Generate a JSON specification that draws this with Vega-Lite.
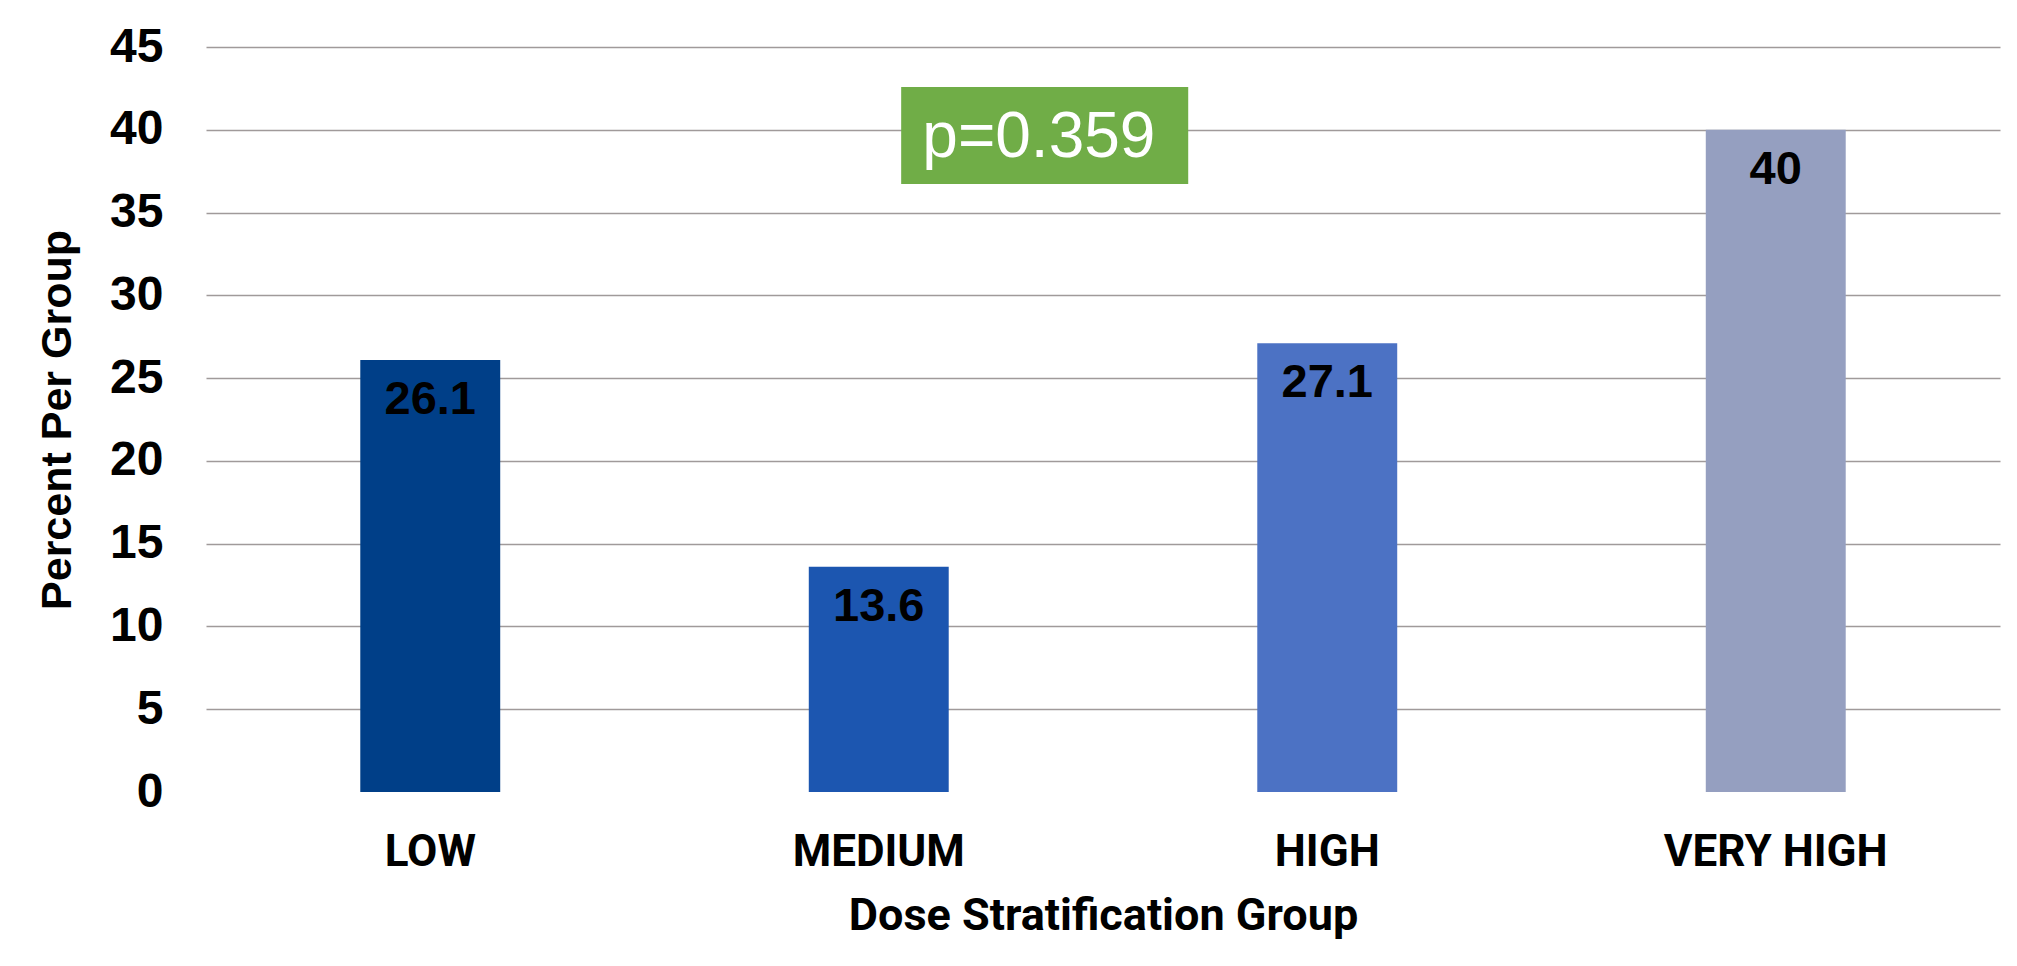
{
  "$schema": "https://vega.github.io/schema/vega-lite/v6.json",
  "autosize": {"type": "none"},
  "width": 1794,
  "height": 745,
  "padding": {"left": 206, "top": 47, "right": 17, "bottom": 174},
  "background": "white",
  "config": {
    "view": {"stroke": null},
    "axis": {"labelColor": "#000000", "titleColor": "#000000"}
  },
  "datasets": {
    "groups": [
      {"group": "LOW", "percent": 26.1},
      {"group": "MEDIUM", "percent": 13.6},
      {"group": "HIGH", "percent": 27.1},
      {"group": "VERY HIGH", "percent": 40}
    ],
    "note": [
      {"label": "p=0.359", "from": 1.55, "to": 2.19, "mid": 1.857, "low": 36.72, "high": 42.58, "center": 39.5}
    ]
  },
  "layer": [
    {
      "data": {"name": "groups"},
      "encoding": {
        "x": {
          "field": "group",
          "type": "nominal",
          "sort": ["LOW", "MEDIUM", "HIGH", "VERY HIGH"],
          "scale": {"paddingInner": 0.688, "paddingOuter": 0.344},
          "axis": {
            "title": "Dose Stratification Group",
            "labelAngle": 0,
            "labelFont": "Roboto",
            "labelFontWeight": "bold",
            "labelFontSize": 44,
            "labelLimit": 0,
            "labelPadding": 38,
            "ticks": false,
            "domain": false,
            "grid": false,
            "titleFont": "Roboto",
            "titleFontWeight": "bold",
            "titleFontSize": 45,
            "titleLimit": 0,
            "titlePadding": 19
          }
        },
        "y": {
          "field": "percent",
          "type": "quantitative",
          "scale": {"domain": [0, 45], "nice": false},
          "axis": {
            "title": "Percent Per Group",
            "values": [0, 5, 10, 15, 20, 25, 30, 35, 40, 45],
            "labelFont": "Liberation Sans",
            "labelFontWeight": "bold",
            "labelFontSize": 48,
            "labelPadding": 43,
            "ticks": false,
            "domain": false,
            "grid": true,
            "gridColor": "#A09A9A",
            "gridWidth": 1.5,
            "gridOpacity": {"condition": {"test": "datum.value === 0", "value": 0}, "value": 1},
            "titleFont": "Liberation Sans",
            "titleFontWeight": "bold",
            "titleFontSize": 43,
            "titleLimit": 0,
            "titlePadding": 30
          }
        }
      },
      "layer": [
        {
          "mark": {"type": "bar"},
          "encoding": {
            "color": {
              "field": "group",
              "type": "nominal",
              "scale": {
                "domain": ["LOW", "MEDIUM", "HIGH", "VERY HIGH"],
                "range": ["#003F88", "#1C56B0", "#4C72C4", "#959FC0"]
              },
              "legend": null
            }
          }
        },
        {
          "mark": {
            "type": "text",
            "baseline": "middle",
            "align": "center",
            "dy": 40,
            "font": "Liberation Sans",
            "fontWeight": "bold",
            "fontSize": 47,
            "color": "#000000"
          },
          "encoding": {"text": {"field": "percent", "type": "quantitative"}}
        }
      ]
    },
    {
      "data": {"name": "note"},
      "encoding": {
        "y": {"field": "low", "type": "quantitative", "scale": {"domain": [0, 45], "nice": false}, "axis": null}
      },
      "layer": [
        {
          "mark": {"type": "rect", "color": "#70AD47"},
          "encoding": {
            "x": {"field": "from", "type": "quantitative", "scale": {"domain": [0, 4], "nice": false, "zero": false}, "axis": null},
            "x2": {"field": "to"},
            "y2": {"field": "high"}
          }
        },
        {
          "mark": {
            "type": "text",
            "baseline": "middle",
            "align": "center",
            "font": "Liberation Sans",
            "fontSize": 64,
            "color": "#FFFFFF"
          },
          "encoding": {
            "x": {"field": "mid", "type": "quantitative", "scale": {"domain": [0, 4], "nice": false, "zero": false}, "axis": null},
            "y": {"field": "center", "type": "quantitative"},
            "text": {"field": "label"}
          }
        }
      ]
    }
  ],
  "resolve": {"scale": {"x": "independent", "y": "independent", "color": "independent"}}
}
